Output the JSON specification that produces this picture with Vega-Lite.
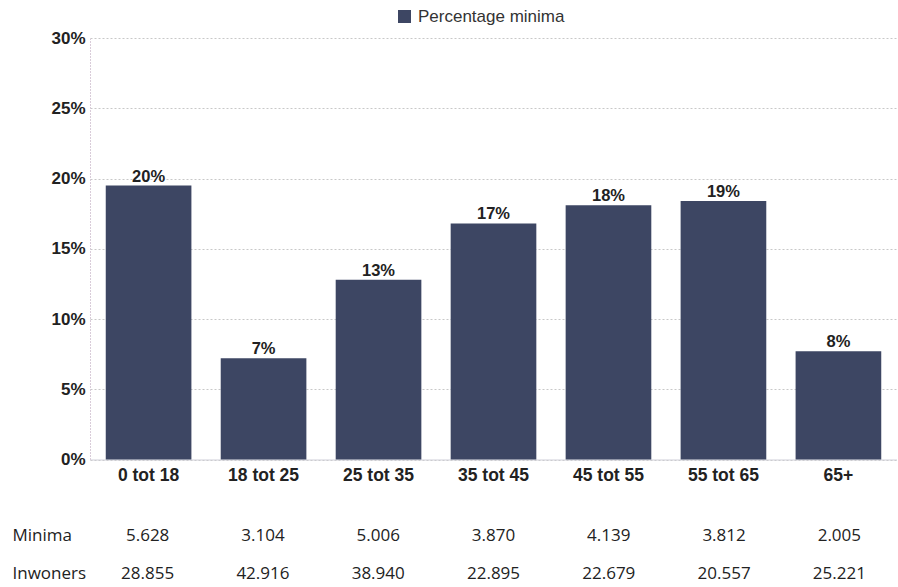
{
  "$schema": "https://vega.github.io/schema/vega-lite/v6.json",
  "padding": {"left": 12, "top": 8, "right": 0, "bottom": 0},
  "background": "white",
  "config": {
    "view": {"stroke": null},
    "font": "Liberation Sans"
  },
  "datasets": {
    "bars": [
      {"age": "0 tot 18", "pct": 19.5, "label": "20%", "series": "Percentage minima"},
      {"age": "18 tot 25", "pct": 7.2, "label": "7%", "series": "Percentage minima"},
      {"age": "25 tot 35", "pct": 12.8, "label": "13%", "series": "Percentage minima"},
      {"age": "35 tot 45", "pct": 16.8, "label": "17%", "series": "Percentage minima"},
      {"age": "45 tot 55", "pct": 18.1, "label": "18%", "series": "Percentage minima"},
      {"age": "55 tot 65", "pct": 18.4, "label": "19%", "series": "Percentage minima"},
      {"age": "65+", "pct": 7.7, "label": "8%", "series": "Percentage minima"}
    ],
    "table": [
      {"age": "0 tot 18", "row": "Minima", "value": "5.628"},
      {"age": "18 tot 25", "row": "Minima", "value": "3.104"},
      {"age": "25 tot 35", "row": "Minima", "value": "5.006"},
      {"age": "35 tot 45", "row": "Minima", "value": "3.870"},
      {"age": "45 tot 55", "row": "Minima", "value": "4.139"},
      {"age": "55 tot 65", "row": "Minima", "value": "3.812"},
      {"age": "65+", "row": "Minima", "value": "2.005"},
      {"age": "0 tot 18", "row": "Inwoners", "value": "28.855"},
      {"age": "18 tot 25", "row": "Inwoners", "value": "42.916"},
      {"age": "25 tot 35", "row": "Inwoners", "value": "38.940"},
      {"age": "35 tot 45", "row": "Inwoners", "value": "22.895"},
      {"age": "45 tot 55", "row": "Inwoners", "value": "22.679"},
      {"age": "55 tot 65", "row": "Inwoners", "value": "20.557"},
      {"age": "65+", "row": "Inwoners", "value": "25.221"}
    ]
  },
  "bounds": "flush",
  "spacing": 68,
  "vconcat": [
    {
      "width": 807,
      "height": 421.5,
      "data": {"name": "bars"},
      "encoding": {
        "x": {
          "field": "age", "type": "nominal", "sort": null,
          "scale": {"paddingInner": 0.255, "paddingOuter": 0.137},
          "axis": {
            "title": null, "labelAngle": 0, "ticks": false,
            "domain": true, "domainColor": "#cfcfd8", "domainWidth": 1,
            "labelFont": "Liberation Sans", "labelFontWeight": "bold",
            "labelFontSize": 17.5, "labelColor": "#222222", "labelPadding": 7
          }
        },
        "y": {
          "field": "pct", "type": "quantitative",
          "scale": {"domain": [0, 30], "nice": false},
          "axis": {
            "title": null, "values": [0, 5, 10, 15, 20, 25, 30],
            "labelExpr": "datum.value + '%'",
            "ticks": false, "domain": true, "domainColor": "#d9ccd9", "domainDash": [2, 1],
            "grid": true, "gridColor": "#c8c8c8", "gridDash": [2, 2], "gridWidth": 1,
            "labelFont": "Liberation Sans", "labelFontWeight": "bold",
            "labelFontSize": 17, "labelColor": "#222222", "labelPadding": 5
          }
        }
      },
      "layer": [
        {
          "mark": {"type": "bar"},
          "encoding": {
            "color": {
              "field": "series", "type": "nominal",
              "scale": {"range": ["#3d4663"]},
              "legend": {
                "title": null, "orient": "none", "legendX": 306, "legendY": -30,
                "symbolType": "square", "symbolSize": 170, "symbolStrokeWidth": 0,
                "labelFont": "Liberation Sans", "labelFontSize": 17,
                "labelColor": "#333333", "labelOffset": 5
              }
            }
          }
        },
        {
          "mark": {"type": "text", "baseline": "bottom", "dy": -1,
                   "font": "Liberation Sans", "fontWeight": "bold", "fontSize": 16.5, "color": "#222222"},
          "encoding": {"text": {"field": "label"}}
        }
      ]
    },
    {
      "width": 807,
      "height": 53.2,
      "data": {"name": "table"},
      "mark": {"type": "text", "font": "Open Sans", "fontSize": 17, "color": "#222222", "baseline": "middle"},
      "encoding": {
        "x": {
          "field": "age", "type": "nominal", "sort": ["0 tot 18", "18 tot 25", "25 tot 35", "35 tot 45", "45 tot 55", "55 tot 65", "65+"],
          "scale": {"paddingInner": 0.255, "paddingOuter": 0.137},
          "axis": null
        },
        "y": {
          "field": "row", "type": "nominal", "sort": ["Minima", "Inwoners"],
          "scale": {"type": "point", "padding": 0.2},
          "axis": {
            "title": null, "ticks": false, "domain": false, "grid": false,
            "labelAlign": "left", "labelPadding": 78,
            "labelFont": "Open Sans", "labelFontSize": 17, "labelColor": "#222222"
          }
        },
        "text": {"field": "value"}
      }
    }
  ]
}
